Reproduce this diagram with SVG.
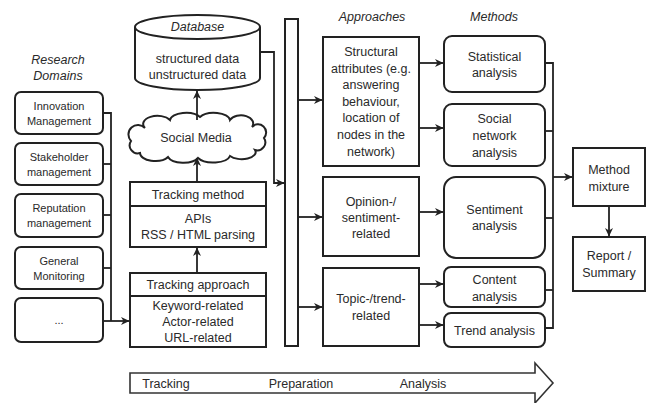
<svg xmlns="http://www.w3.org/2000/svg" width="648" height="403" viewBox="0 0 648 403">
<defs>
<marker id="ah" markerWidth="9" markerHeight="9" refX="8" refY="4.5" orient="auto" markerUnits="userSpaceOnUse">
<path d="M0,0.5 L8.5,4.5 L0,8.5 L2.5,4.5 z" fill="#222"/>
</marker>
<style>
text{font-family:"Liberation Sans",Arial,sans-serif;fill:#2a2a2a;text-anchor:middle;font-size:12.5px}
.s{font-size:11px}
.i{font-style:italic}
.b{fill:#fff;stroke:#222;stroke-width:2}
.c line,.c path{fill:none;stroke:#222;stroke-width:1.8}
.a{marker-end:url(#ah)}
</style>
</defs>
<rect width="648" height="403" fill="#fff"/>

<text class="i" x="58" y="64">Research</text>
<text class="i" x="58" y="80">Domains</text>
<text class="i" x="372" y="21">Approaches</text>
<text class="i" x="494" y="21">Methods</text>

<g id="innovation"><rect class="b" x="15" y="92" width="88" height="42" rx="6"/><text class="s" x="59" y="110">Innovation</text><text class="s" x="59" y="125">Management</text></g>
<g id="stakeholder"><rect class="b" x="15" y="143" width="88" height="42" rx="6"/><text class="s" x="59" y="161">Stakeholder</text><text class="s" x="59" y="176">management</text></g>
<g id="reputation"><rect class="b" x="15" y="194" width="88" height="43" rx="6"/><text class="s" x="59" y="212">Reputation</text><text class="s" x="59" y="227">management</text></g>
<g id="general"><rect class="b" x="15" y="247" width="88" height="42" rx="6"/><text class="s" x="59" y="265">General</text><text class="s" x="59" y="280">Monitoring</text></g>
<g id="etc"><rect class="b" x="15" y="298" width="88" height="44" rx="6"/><text class="s" x="59" y="324">...</text></g>

<g id="database">
<path class="b" d="M135,27 L135,78 A62.5,12 0 0 0 260,78 L260,27"/>
<ellipse class="b" cx="197.5" cy="27" rx="62.5" ry="12"/>
<text class="i" x="197.5" y="31">Database</text>
<text x="197.5" y="63">structured data</text>
<text x="197.5" y="79">unstructured data</text>
</g>

<g id="social-media">
<path class="b" d="M140,153 a8,8 0 0 1 -9,-12 a9,9 0 0 1 14,-13 a14,8 0 0 1 25,-8 a16,8 0 0 1 30,-3 a16,8 0 0 1 30,3 a12,8 0 0 1 22,7 a8,8 0 0 1 12,11 a8,8 0 0 1 -9,12 a14,7 0 0 1 -25,6 a17,8 0 0 1 -32,2 a16,8 0 0 1 -30,-1 a15,8 0 0 1 -28,-4 z"/>
<text x="196" y="142">Social Media</text>
</g>

<g id="tracking-method">
<rect class="b" x="130" y="182" width="136" height="65"/>
<line x1="130" y1="206" x2="266" y2="206" stroke="#222" stroke-width="2"/>
<text x="198" y="199">Tracking method</text>
<text x="198" y="223">APIs</text>
<text x="198" y="239">RSS / HTML parsing</text>
</g>

<g id="tracking-approach">
<rect class="b" x="130" y="273" width="136" height="74"/>
<line x1="130" y1="296" x2="266" y2="296" stroke="#222" stroke-width="2"/>
<text x="198" y="289">Tracking approach</text>
<text x="198" y="310">Keyword-related</text>
<text x="198" y="326">Actor-related</text>
<text x="198" y="342">URL-related</text>
</g>

<g id="preparation-bar"><rect class="b" x="285" y="19" width="13" height="327"/></g>

<g id="structural">
<rect class="b" x="323" y="37" width="96" height="129"/>
<text x="371" y="56">Structural</text>
<text x="371" y="73">attributes (e.g.</text>
<text x="371" y="89">answering</text>
<text x="371" y="106">behaviour,</text>
<text x="371" y="122">location of</text>
<text x="371" y="139">nodes in the</text>
<text x="371" y="156">network)</text>
</g>
<g id="opinion">
<rect class="b" x="323" y="177" width="96" height="79"/>
<text x="371" y="206">Opinion-/</text>
<text x="371" y="222">sentiment-</text>
<text x="371" y="238">related</text>
</g>
<g id="topic">
<rect class="b" x="323" y="268" width="96" height="78"/>
<text x="371" y="303">Topic-/trend-</text>
<text x="371" y="320">related</text>
</g>

<g id="statistical"><rect class="b" x="444" y="36" width="101" height="56" rx="8"/><text x="494.5" y="61">Statistical</text><text x="494.5" y="77">analysis</text></g>
<g id="sna"><rect class="b" x="444" y="104" width="101" height="62" rx="8"/><text x="494.5" y="123">Social</text><text x="494.5" y="140">network</text><text x="494.5" y="157">analysis</text></g>
<g id="sentiment"><rect class="b" x="444" y="177" width="101" height="81" rx="12"/><text x="494.5" y="214">Sentiment</text><text x="494.5" y="230">analysis</text></g>
<g id="content"><rect class="b" x="444" y="267" width="101" height="40" rx="7"/><text x="494.5" y="284">Content</text><text x="494.5" y="301">analysis</text></g>
<g id="trend"><rect class="b" x="444" y="313" width="101" height="34" rx="7"/><text x="494.5" y="335">Trend analysis</text></g>

<g id="method-mixture"><rect class="b" x="573" y="148" width="72" height="58"/><text x="609" y="174">Method</text><text x="609" y="191">mixture</text></g>
<g id="report"><rect class="b" x="573" y="237" width="72" height="54"/><text x="609" y="260">Report /</text><text x="609" y="277">Summary</text></g>

<g id="phase-arrow">
<path d="M130,373 H535 V363 L553,383 L535,403 V393 H130 Z" fill="#fff" stroke="#333" stroke-width="1.6"/>
<text x="166" y="388">Tracking</text>
<text x="301" y="388">Preparation</text>
<text x="423" y="388">Analysis</text>
</g>

<g class="c" id="connectors">
<path d="M103,113 H111 V321"/>
<line x1="103" y1="164" x2="111" y2="164"/>
<line x1="103" y1="215" x2="111" y2="215"/>
<line x1="103" y1="268" x2="111" y2="268"/>
<line class="a" x1="103" y1="321" x2="129" y2="321"/>
<line class="a" x1="197" y1="273" x2="197" y2="248"/>
<line class="a" x1="197" y1="182" x2="197" y2="158"/>
<line class="a" x1="197" y1="120" x2="197" y2="91"/>
<path class="a" d="M260,52 H274 V183 H284"/>
<line class="a" x1="298" y1="100" x2="322" y2="100"/>
<line class="a" x1="298" y1="217" x2="322" y2="217"/>
<line class="a" x1="298" y1="307" x2="322" y2="307"/>
<line class="a" x1="419" y1="63" x2="443" y2="63"/>
<line class="a" x1="419" y1="128" x2="443" y2="128"/>
<line class="a" x1="419" y1="212" x2="443" y2="212"/>
<line class="a" x1="419" y1="284" x2="443" y2="284"/>
<line class="a" x1="419" y1="325" x2="443" y2="325"/>
<path d="M545,63 H553 V328 H545"/>
<line x1="545" y1="131" x2="553" y2="131"/>
<line x1="545" y1="218" x2="553" y2="218"/>
<line x1="545" y1="290" x2="553" y2="290"/>
<line class="a" x1="553" y1="177" x2="572" y2="177"/>
<line class="a" x1="609" y1="206" x2="609" y2="236"/>
</g>
</svg>
